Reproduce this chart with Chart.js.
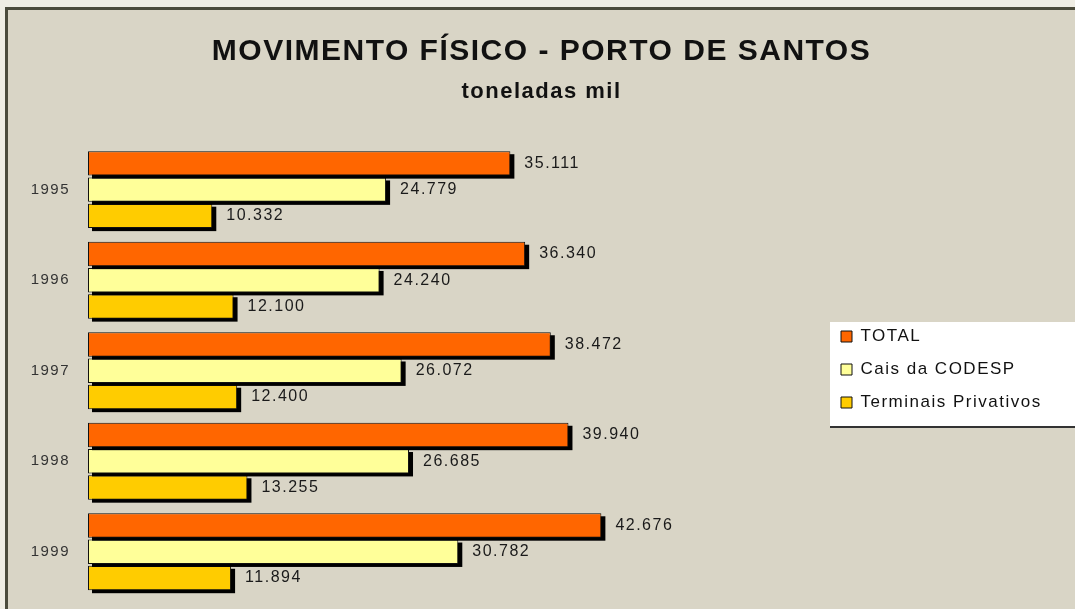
<!DOCTYPE html>
<html>
<head>
<meta charset="utf-8">
<script src="https://cdn.jsdelivr.net/npm/chart.js@4.4.0/dist/chart.umd.min.js"></script>
<style>
  html, body { margin: 0; padding: 0; background: #efede4; }
  #frame {
    position: absolute; left: 5px; top: 7px;
    width: 1067px; height: 599px;
    border-left: 3px solid #4b4b3c; border-top: 3px solid #4b4b3c;
    background: #d9d5c6;
  }
  canvas { display: block; }
</style>
</head>
<body>
<div id="frame"><canvas id="chart" width="1067" height="599"></canvas></div>
<script>
const years = ['1995', '1996', '1997', '1998', '1999'];
const total = [35111, 36340, 38472, 39940, 42676];
const caisCodesp = [24779, 24240, 26072, 26685, 30782];
const terminais = [10332, 12100, 12400, 13255, 11894];

const FONT = '"Liberation Sans", Arial, sans-serif';

function fmt(n) {
    return Math.floor(n / 1000) + '.' + String(n % 1000).padStart(3, '0');
}

// black drop shadow under every bar, drawn just before its dataset
const barShadow = {
    id: 'barShadow',
    beforeDatasetDraw(chart, args) {
        const ctx = chart.ctx;
        ctx.save();
        ctx.fillStyle = '#000';
        args.meta.data.forEach(bar => {
            const p = bar.getProps(['x', 'y', 'base', 'height'], true);
            ctx.fillRect(p.base + 4, p.y - p.height / 2 + 3, p.x - p.base, p.height);
        });
        ctx.restore();
    }
};

const valueLabels = {
    id: 'valueLabels',
    afterDatasetsDraw(chart) {
        const ctx = chart.ctx;
        ctx.save();
        ctx.font = '16px ' + FONT;
        ctx.fillStyle = '#1a1a1a';
        ctx.textAlign = 'left';
        ctx.textBaseline = 'middle';
        chart.data.datasets.forEach((ds, i) => {
            chart.getDatasetMeta(i).data.forEach((bar, j) => {
                ctx.fillText(fmt(ds.data[j]), bar.x + 14, bar.y);
            });
        });
        ctx.restore();
    }
};

// move the legend to the middle right and give it a white box
const legendBox = {
    id: 'legendBox',
    afterLayout(chart) {
        const lg = chart.legend;
        lg.left = 817;
        lg.right = chart.width;
        lg.width = lg.right - lg.left;
        lg.top = 302;
        lg.bottom = lg.top + 120;
        lg.height = 120;
    },
    beforeDraw(chart) {
        const ctx = chart.ctx;
        ctx.letterSpacing = '1.5px';
        ctx.save();
        ctx.fillStyle = '#ffffff';
        ctx.fillRect(822, 312, chart.width - 822, 104);
        ctx.fillStyle = '#333';
        ctx.fillRect(822, 416, chart.width - 822, 2);
        ctx.restore();
    }
};

new Chart(document.getElementById('chart').getContext('2d'), {
    type: 'bar',
    data: {
        labels: years,
        datasets: [
            { label: 'TOTAL', data: total, backgroundColor: '#ff6600' },
            { label: 'Cais da CODESP', data: caisCodesp, backgroundColor: '#ffff99' },
            { label: 'Terminais Privativos', data: terminais, backgroundColor: '#ffcc00' }
        ]
    },
    options: {
        indexAxis: 'y',
        responsive: false,
        animation: false,
        datasets: {
            bar: {
                borderColor: '#111',
                borderWidth: 1,
                borderSkipped: false,
                categoryPercentage: 0.87,
                barPercentage: 0.93
            }
        },
        layout: { padding: { left: 0, right: 0, top: 0, bottom: 12 } },
        plugins: {
            title: {
                display: true,
                text: 'MOVIMENTO FÍSICO - PORTO DE SANTOS',
                color: '#111',
                font: { family: FONT, size: 30, weight: 'bold' },
                padding: { top: 24, bottom: 4 }
            },
            subtitle: {
                display: true,
                text: 'toneladas mil',
                color: '#111',
                font: { family: FONT, size: 22, weight: 'bold' },
                padding: { top: 5, bottom: 39 }
            },
            legend: {
                position: 'right',
                align: 'start',
                labels: {
                    color: '#111',
                    boxWidth: 11,
                    boxHeight: 11,
                    padding: 16,
                    font: { family: FONT, size: 17 }
                }
            },
            tooltip: { enabled: false }
        },
        scales: {
            x: {
                display: false,
                min: 0,
                max: 65700
            },
            y: {
                grid: { display: false },
                border: { display: false },
                ticks: {
                    color: '#333',
                    padding: 10,
                    font: { family: FONT, size: 15 }
                },
                afterFit(scale) {
                    scale.width = 80;
                    scale.paddingTop = 0;
                    scale.paddingBottom = 0;
                }
            }
        }
    },
    plugins: [legendBox, barShadow, valueLabels]
});
</script>
</body>
</html>
